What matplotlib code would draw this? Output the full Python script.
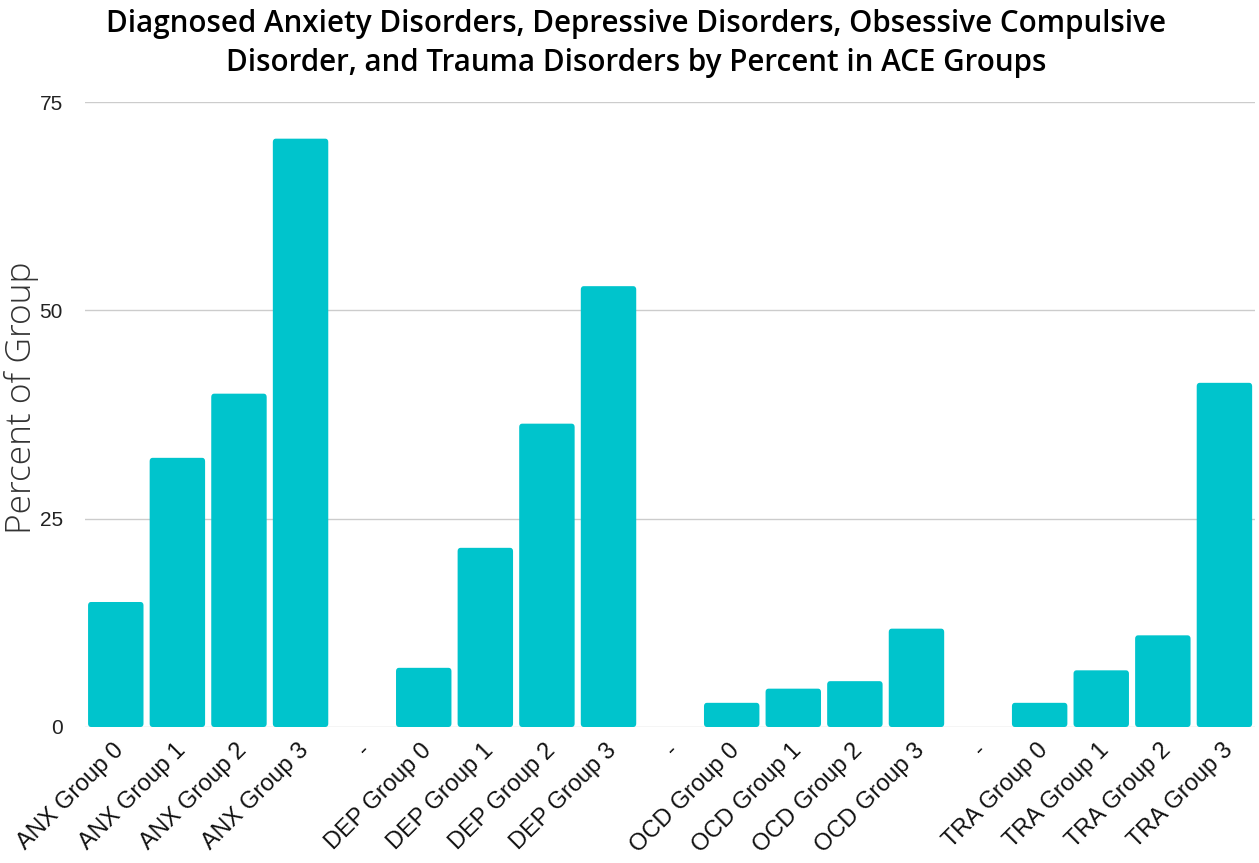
import numpy as np
import matplotlib
matplotlib.use('Agg')
import matplotlib.pyplot as plt
import matplotlib.transforms as mtransforms
from matplotlib.patches import FancyBboxPatch

categories = ['ANX Group 0', 'ANX Group 1', 'ANX Group 2', 'ANX Group 3', '-',
              'DEP Group 0', 'DEP Group 1', 'DEP Group 2', 'DEP Group 3', '-',
              'OCD Group 0', 'OCD Group 1', 'OCD Group 2', 'OCD Group 3', '-',
              'TRA Group 0', 'TRA Group 1', 'TRA Group 2', 'TRA Group 3']
percent = [15.0, 32.3, 40.0, 70.6, 0,
           7.1, 21.5, 36.4, 52.9, 0,
           2.9, 4.6, 5.5, 11.8, 0,
           2.9, 6.8, 11.0, 41.3]
yticks = [0, 25, 50, 75]

bar_color = '#00C4CC'

fig = plt.figure(figsize=(12.59, 8.63), dpi=100)
ax = fig.add_axes([0.0675, 0.1576, 0.9295, 0.7242])

x = np.arange(len(categories))
bars = ax.bar(x, percent, width=0.9, color=bar_color, zorder=3)
# swap plain bars for slightly rounded ones
for b, v in zip(bars, percent):
    b.set_visible(False)
    if v <= 0:
        continue
    p = FancyBboxPatch((b.get_x(), 0), b.get_width(), v,
                       boxstyle='round,pad=0,rounding_size=0.05',
                       mutation_aspect=8.0,
                       facecolor=bar_color, edgecolor='none', zorder=3)
    ax.add_patch(p)

ax.set_xlim(-0.5, len(categories) - 0.5)
ax.set_ylim(0, 75)
ax.set_yticks(yticks)
ax.set_yticklabels([str(t) for t in yticks], family='Liberation Sans', fontsize=15,
                   color='#222222')
ax.set_xticks(x)
ax.set_xticklabels(categories, rotation=45, ha='right', rotation_mode='anchor',
                   family='Liberation Sans', fontsize=17, color='#111111')
ax.tick_params(length=0)
ax.tick_params(axis='x', pad=9)
ax.tick_params(axis='y', pad=16)
shift = mtransforms.ScaledTranslation(-3 / 100, 0, fig.dpi_scale_trans)
for lab in ax.get_xticklabels():
    lab.set_transform(lab.get_transform() + shift)
ax.grid(axis='y', color='#cccccc', linewidth=1, zorder=0)
for s in ax.spines.values():
    s.set_visible(False)

ax.set_ylabel('Percent of Group', family='Open Sans', fontweight='light', fontsize=25.5,
              color='#333333')
ax.yaxis.set_label_coords(-0.039, 0.527)

fig.suptitle('Diagnosed Anxiety Disorders, Depressive Disorders, Obsessive Compulsive\n'
             'Disorder, and Trauma Disorders by Percent in ACE Groups',
             x=0.505, y=0.99, family='Open Sans', fontweight='semibold', fontsize=21.3,
             linespacing=1.4)

fig.savefig('out.png', dpi=100)
